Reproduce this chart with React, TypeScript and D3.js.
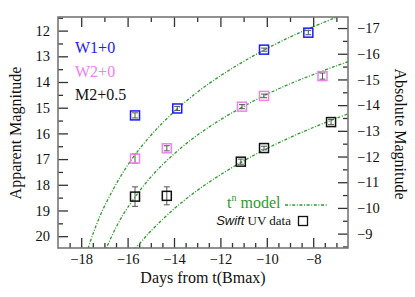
import React, { useEffect, useRef } from 'react';
import * as d3 from 'd3';

// Swift UV photometry (apparent mag), days from B max
const w1Days = [-15.68, -13.86, -10.12, -8.21];
const w1Mag = [15.3, 15.03, 12.74, 12.08];
const w1Err = [0.1, 0.08, 0.06, 0.08];

const w2Days = [-15.68, -14.31, -11.07, -10.12, -7.6];
const w2Mag = [16.98, 16.58, 14.96, 14.54, 13.77];
const w2Err = [0.18, 0.1, 0.08, 0.07, 0.12];

const m2Days = [-15.68, -14.31, -11.12, -10.12, -7.23];
const m2Mag = [18.46, 18.43, 17.1, 16.57, 15.56];
const m2Err = [0.38, 0.35, 0.1, 0.07, 0.1];

// t^n model curves
const modelW1Days = [-17.8, -17.5, -17, -16, -15, -14, -13, -12, -11, -10, -9, -8, -7];
const modelW1Mag = [20.75, 19.93, 18.84, 17.24, 16.08, 15.16, 14.4, 13.76, 13.2, 12.7, 12.25, 11.85, 11.48];
const modelW2Days = [-17, -16.5, -16, -15, -14, -13, -12, -11, -10, -9, -8, -7, -6.5];
const modelW2Mag = [20.63, 19.66, 18.89, 17.7, 16.8, 16.07, 15.47, 14.95, 14.48, 14.07, 13.71, 13.37, 13.21];
const modelM2Days = [-15.7, -15.3, -15, -14, -13, -12, -11, -10, -9, -8, -7, -6.5];
const modelM2Mag = [20.52, 20.1, 19.8, 18.94, 18.22, 17.61, 17.07, 16.59, 16.16, 15.77, 15.41, 15.24];

const distMod = 28.9;
const xTicks = [-18, -16, -14, -12, -10, -8];
const yTicks = [12, 13, 14, 15, 16, 17, 18, 19, 20];
const absTicks = [-17, -16, -15, -14, -13, -12, -11, -10, -9];

const GREEN = '#2e9b2e';
const DASH = '3,1.6,1,1.6';

const App = () => {
  const ref = useRef<SVGSVGElement>(null);

  useEffect(() => {
    const left = 58, top = 17, right = 348, bottom = 248;
    const svg = d3.select(ref.current);
    svg.selectAll('*').remove();

    const x = d3.scaleLinear().domain([-19, -6.5]).range([left, right]);
    const y = d3.scaleLinear().domain([11.47, 20.46]).range([top, bottom]);
    const yAbs = d3.scaleLinear().domain([11.47 - distMod, 20.46 - distMod]).range([top, bottom]);

    svg.append('defs').append('clipPath').attr('id', 'plotclip')
      .append('rect').attr('x', left).attr('y', top).attr('width', right - left).attr('height', bottom - top);

    const font = "'Liberation Serif', 'Times New Roman', serif";

    const styleAxis = (g, fs = 14.5) => {
      g.attr('font-family', null);
      g.select('.domain').remove();
      g.selectAll('line').attr('stroke', '#333').attr('stroke-width', 1.3);
      g.selectAll('text').attr('font-family', font).attr('font-size', fs).attr('fill', '#111');
    };

    const halves = (a, b, skip) => d3.range(a, b + 0.001, 0.5).filter(v => !skip.includes(v));

    // bottom axis
    svg.append('g').attr('transform', `translate(0,${bottom})`)
      .call(d3.axisBottom(x).tickValues(xTicks).tickSize(-10).tickPadding(6).tickFormat(d3.format('d')))
      .call(styleAxis);
    svg.append('g').attr('transform', `translate(0,${bottom})`)
      .call(d3.axisBottom(x).tickValues(halves(-18.5, -7, xTicks)).tickSize(-5).tickFormat(() => ''))
      .call(styleAxis);
    // top axis
    svg.append('g').attr('transform', `translate(0,${top})`)
      .call(d3.axisTop(x).tickValues(xTicks).tickSize(-10).tickFormat(() => ''))
      .call(styleAxis);
    svg.append('g').attr('transform', `translate(0,${top})`)
      .call(d3.axisTop(x).tickValues([-17, -15, -13, -11, -9, -7]).tickSize(-5).tickFormat(() => ''))
      .call(styleAxis);
    // left axis
    svg.append('g').attr('transform', `translate(${left},0)`)
      .call(d3.axisLeft(y).tickValues(yTicks).tickSize(-10).tickPadding(8).tickFormat(d3.format('d')))
      .call(styleAxis);
    svg.append('g').attr('transform', `translate(${left},0)`)
      .call(d3.axisLeft(y).tickValues(halves(11.5, 20, yTicks)).tickSize(-5).tickFormat(() => ''))
      .call(styleAxis);
    // right axis
    svg.append('g').attr('transform', `translate(${right},0)`)
      .call(d3.axisRight(yAbs).tickValues(absTicks).tickSize(-10).tickPadding(9).tickFormat(d3.format('d')))
      .call(styleAxis);
    svg.append('g').attr('transform', `translate(${right},0)`)
      .call(d3.axisRight(yAbs).tickValues(halves(-17, -8.5, absTicks)).tickSize(-5).tickFormat(() => ''))
      .call(styleAxis);

    svg.append('rect').attr('x', left).attr('y', top).attr('width', right - left).attr('height', bottom - top)
      .attr('fill', 'none').attr('stroke', '#777').attr('stroke-width', 1.6);

    // model curves
    const line = d3.line<[number, number]>().x(d => x(d[0])).y(d => y(d[1])).curve(d3.curveCatmullRom);
    const models = [
      [modelW1Days, modelW1Mag],
      [modelW2Days, modelW2Mag],
      [modelM2Days, modelM2Mag],
    ];
    const plot = svg.append('g').attr('clip-path', 'url(#plotclip)');
    models.forEach(([ds, ms]) => {
      plot.append('path')
        .attr('d', line(ds.map((d, i) => [d, ms[i]] as [number, number])))
        .attr('fill', 'none').attr('stroke', GREEN).attr('stroke-width', 1.3).attr('stroke-dasharray', DASH);
    });

    // data
    const series = [
      { days: w1Days, mag: w1Mag, err: w1Err, color: '#1a1aff' },
      { days: w2Days, mag: w2Mag, err: w2Err, color: '#ee82ee' },
      { days: m2Days, mag: m2Mag, err: m2Err, color: '#111' },
    ];
    const s = 9;
    series.forEach(sr => {
      const g = plot.append('g');
      sr.days.forEach((d, i) => {
        const cx = x(d), cy = y(sr.mag[i]);
        const y0 = y(sr.mag[i] - sr.err[i]), y1 = y(sr.mag[i] + sr.err[i]);
        g.append('line').attr('x1', cx).attr('x2', cx).attr('y1', y0).attr('y2', y1)
          .attr('stroke', '#555').attr('stroke-width', 1);
        [y0, y1].forEach(yy => g.append('line').attr('x1', cx - 3).attr('x2', cx + 3).attr('y1', yy).attr('y2', yy)
          .attr('stroke', '#555').attr('stroke-width', 1));
        g.append('rect').attr('x', cx - s / 2).attr('y', cy - s / 2).attr('width', s).attr('height', s)
          .attr('fill', 'none').attr('stroke', sr.color).attr('stroke-width', 1.5);
      });
    });

    // band labels
    const bandLabels = [
      { text: 'W1+0', color: '#1a1aff', yb: 53 },
      { text: 'W2+0', color: '#ee82ee', yb: 77 },
      { text: 'M2+0.5', color: '#111', yb: 100 },
    ];
    bandLabels.forEach(b => {
      svg.append('text').attr('x', 75).attr('y', b.yb).text(b.text)
        .attr('font-family', font).attr('font-size', 16).attr('fill', b.color);
    });

    // legend
    const tn = svg.append('text').attr('x', 227).attr('y', 208)
      .attr('font-family', font).attr('font-size', 16).attr('fill', GREEN);
    tn.append('tspan').text('t');
    tn.append('tspan').text('n').attr('font-size', 10).attr('dy', -7);
    tn.append('tspan').text(' model').attr('dy', 7);
    svg.append('line').attr('x1', 285).attr('x2', 328).attr('y1', 205).attr('y2', 205)
      .attr('stroke', GREEN).attr('stroke-width', 1.3).attr('stroke-dasharray', DASH);

    const sw = svg.append('text').attr('x', 291).attr('y', 225).attr('text-anchor', 'end')
      .attr('font-size', 13).attr('fill', '#111');
    sw.append('tspan').text('Swift').attr('font-family', "'Liberation Sans', Arial, sans-serif").attr('font-style', 'italic');
    sw.append('tspan').text(' UV data').attr('font-family', font);
    svg.append('rect').attr('x', 298.5).attr('y', 216.5).attr('width', 9).attr('height', 9)
      .attr('fill', 'none').attr('stroke', '#111').attr('stroke-width', 1.3);

    // axis titles
    svg.append('text').attr('x', 203).attr('y', 283).attr('text-anchor', 'middle')
      .attr('font-family', font).attr('font-size', 16).attr('fill', '#111').text('Days from t(Bmax)');
    svg.append('text').attr('transform', 'translate(21,133) rotate(-90)').attr('text-anchor', 'middle')
      .attr('font-family', font).attr('font-size', 16).attr('fill', '#111').text('Apparent Magnitude');
    svg.append('text').attr('transform', 'translate(395,134) rotate(90)').attr('text-anchor', 'middle')
      .attr('font-family', font).attr('font-size', 16).attr('fill', '#111').text('Absolute Magnitude');
  }, []);

  return (
    <svg ref={ref} width={415} height={297}
      style={{ position: 'absolute', left: 0, top: 0, background: '#fff' }} />
  );
};

export default App;
